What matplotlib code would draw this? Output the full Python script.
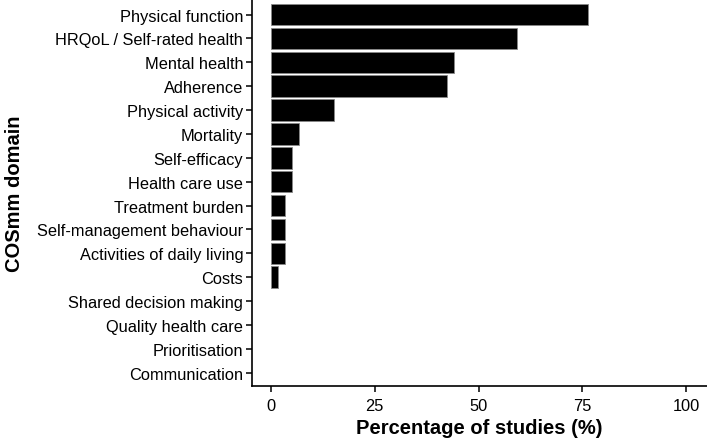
import matplotlib.pyplot as plt

# COSmm domains, top to bottom as in the figure
domains = ['Physical function', 'HRQoL / Self-rated health', 'Mental health', 'Adherence',
           'Physical activity', 'Mortality', 'Self-efficacy', 'Health care use',
           'Treatment burden', 'Self-management behaviour', 'Activities of daily living',
           'Costs', 'Shared decision making', 'Quality health care', 'Prioritisation',
           'Communication']
pct_studies = [76.3, 59.3, 44.1, 42.4, 15.3, 6.8, 5.1, 5.1, 3.4, 3.4, 3.4, 1.7, 0, 0, 0, 0]
x_ticks = [0, 25, 50, 75, 100]

plt.rcParams['font.family'] = ['Liberation Sans', 'DejaVu Sans']

fig = plt.figure(figsize=(7.07, 4.39), dpi=100, facecolor='w')
ax = fig.add_axes([0.356, 0.119, 0.644, 0.881])

pos = list(range(len(domains)))
# no outline on empty domains
edge_w = [0.6 if v > 0 else 0 for v in pct_studies]
ax.barh(pos, pct_studies, height=0.9, color='black', edgecolor='#888888', linewidth=edge_w)

ax.set_yticks(pos)
ax.set_yticklabels(domains, fontsize=11.8, color='black')
ax.set_ylim(len(domains) - 0.45, -0.65)
ax.set_xlim(-4.6, 105)
ax.set_xticks(x_ticks)
ax.set_xticklabels([str(t) for t in x_ticks], fontsize=11.8, color='black')

ax.set_xlabel('Percentage of studies (%)', fontsize=14.5, fontweight='bold')
ax.set_ylabel('COSmm domain', fontsize=14.5, fontweight='bold')
ax.xaxis.set_label_coords(0.5, -0.107)
ax.yaxis.set_label_coords(-0.522, 0.5)
ax.xaxis.label.set_va('center')
ax.yaxis.label.set_va('center')

for s in ['top', 'right']:
    ax.spines[s].set_visible(False)
for s in ['left', 'bottom']:
    ax.spines[s].set_linewidth(1.2)
ax.tick_params(axis='both', length=4, width=1.1)
ax.tick_params(axis='y', pad=2)
ax.tick_params(axis='x', pad=5)

fig.savefig('out.png', dpi=100)
